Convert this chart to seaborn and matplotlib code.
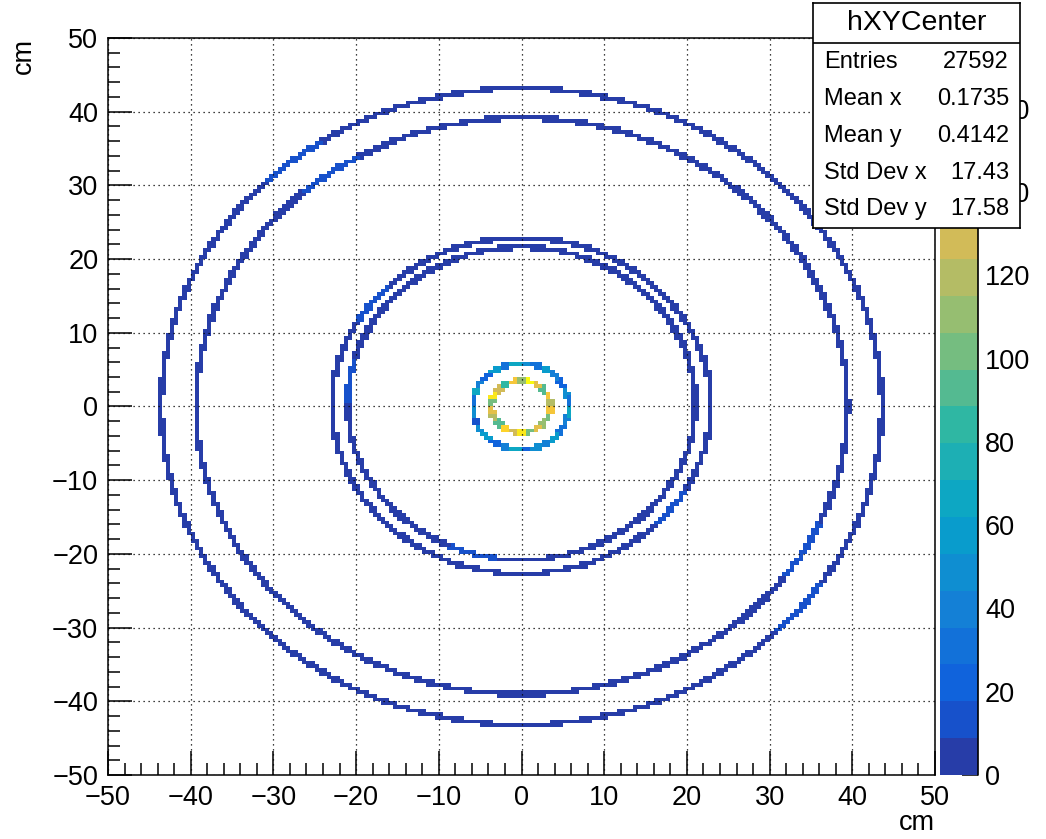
import numpy as np
import matplotlib
matplotlib.use("Agg")
import matplotlib.pyplot as plt
from matplotlib.colors import ListedColormap, BoundaryNorm
import seaborn as sns

sns.set_style("ticks")
plt.rcParams['font.family'] = ['Liberation Sans', 'DejaVu Sans']
plt.rcParams.update({'axes.edgecolor': 'black', 'xtick.color': 'black', 'ytick.color': 'black',
                     'text.color': 'black', 'axes.labelcolor': 'black'})

# histogram binning (cm)
x_lo, x_hi, n_bins = -50.0, 50.0, 200

# rings seen in the picture: centre and radii (cm)
ring_cx = [0.0, 0.05, 0.0, 0.0, -0.1, -0.05]
ring_cy = [0.0, 0.05, 0.1, 0.4, 0.0, 0.0]
ring_rx = [43.6, 39.4, 22.9, 21.05, 5.8, 3.6]
ring_ry = [43.2, 39.1, 22.8, 21.2, 5.85, 3.5]

# bin contents going round each ring (counter-clockwise from +x)
outer_counts = [5, 6, 4, 7, 5, 6, 8, 5, 7, 4, 6, 11, 5, 6, 3, 7, 5, 6, 4, 8, 5, 6, 7, 5,
                6, 4, 7, 5, 10, 6, 5, 7]
second_counts = [6, 5, 7, 4, 6, 8, 5, 7, 5, 6, 12, 4, 6, 7, 5, 8, 6, 5, 4, 7, 6, 5, 6, 5,
                 7, 4, 6, 10, 5, 6]
mid_counts = [6, 7, 5, 8, 6, 4, 7, 6, 5, 11, 6, 7, 5, 4, 8, 6, 7, 5, 7, 6, 5, 10, 6, 4]
mid2_counts = [5, 8, 6, 4, 7, 6, 5, 6, 8, 5, 10, 6, 4, 7, 6, 12, 5, 6, 7, 5, 4, 6]
core_counts = [35, 52, 18, 44, 61, 27, 48, 70, 33, 55, 22, 40, 66, 30, 50, 15, 45, 58, 25, 38,
               63, 20, 47, 36, 54, 29, 42, 68]
inner_counts = [120, 150, 95, 135, 172, 110, 145, 85, 128, 160, 100, 140, 118, 92, 155, 132,
                168, 105, 138, 112, 98, 147]
ring_counts = [outer_counts, second_counts, mid_counts, mid2_counts, core_counts, inner_counts]

# kBird palette stops
bird_colors = [(0.2082, 0.1664, 0.5293), (0.0592, 0.3599, 0.8684), (0.0780, 0.5041, 0.8385),
               (0.0232, 0.6419, 0.7914), (0.1802, 0.7178, 0.6425), (0.5301, 0.7492, 0.4662),
               (0.8186, 0.7328, 0.3499), (0.9956, 0.7862, 0.1968), (0.9764, 0.9832, 0.0539)]

z_max, n_levels = 177.0, 20
cbar_ticks = [0, 20, 40, 60, 80, 100, 120, 140, 160]

stat_labels = ["Entries", "Mean x", "Mean y", "Std Dev x", "Std Dev y"]
stat_values = ["27592", "0.1735", "0.4142", "17.43", "17.58"]

# fill the 2D histogram
edges = np.linspace(x_lo, x_hi, n_bins + 1)
bw = edges[1] - edges[0]
H = np.zeros((n_bins, n_bins))
phi = np.linspace(0, 2 * np.pi, 20000, endpoint=False)
for cx, cy, rx, ry, counts in zip(ring_cx, ring_cy, ring_rx, ring_ry, ring_counts):
    for dr in (-0.06, 0.06):
        xs = cx + (rx + dr) * np.cos(phi)
        ys = cy + (ry + dr) * np.sin(phi)
        ix = np.floor((xs - x_lo) / bw).astype(int)
        iy = np.floor((ys - x_lo) / bw).astype(int)
        for i, j in set(zip(ix, iy)):
            xc, yc = edges[i] + bw / 2, edges[j] + bw / 2
            a = np.arctan2((yc - cy) / ry, (xc - cx) / rx) % (2 * np.pi)
            H[i, j] = counts[int(a / (2 * np.pi) * len(counts)) % len(counts)]

# palette, ROOT style contour colours
pal = sns.blend_palette(bird_colors, n_colors=255)
level_cols = [pal[min(254, int((i + 0.99) * 255 / n_levels))] for i in range(n_levels)]
cmap = ListedColormap(level_cols)
cmap.set_bad('white')
norm = BoundaryNorm(np.linspace(0, z_max, n_levels + 1), n_levels)

W, Hpx = 1046, 839
fig = plt.figure(figsize=(W / 100, Hpx / 100), dpi=100)
ax = fig.add_axes([108 / W, 1 - 775 / Hpx, 827 / W, 737 / Hpx])
cax = fig.add_axes([940 / W, 1 - 775 / Hpx, 38 / W, 737 / Hpx])

mesh = ax.pcolormesh(edges, edges, np.ma.masked_equal(H.T, 0), cmap=cmap, norm=norm)
ax.set_xlim(x_lo, x_hi)
ax.set_ylim(x_lo, x_hi)
ax.set_xticks(np.arange(-50, 51, 10))
ax.set_yticks(np.arange(-50, 51, 10))
ax.set_xticks(np.arange(-50, 51, 2), minor=True)
ax.set_yticks(np.arange(-50, 51, 2), minor=True)
ax.tick_params(which='major', direction='in', length=17, width=1.1, labelsize=19.5, pad=7,
               top=False, right=False)
ax.tick_params(which='minor', direction='in', length=8.5, width=1.1, top=False, right=False)
ax.grid(True, which='major', color='black', linestyle=(0, (1, 3)), linewidth=0.9)
ax.set_axisbelow(False)
for s in ax.spines.values():
    s.set_linewidth(1.1)

ax.set_xlabel("cm", fontsize=19.5, loc='right')
ax.xaxis.set_label_coords(1.0, -0.048)
ax.set_ylabel("cm", fontsize=19.5, loc='top')
ax.yaxis.set_label_coords(-0.086, 1.0)

cb = fig.colorbar(mesh, cax=cax)
cb.outline.set_visible(False)
cb.set_ticks(cbar_ticks)
cax.minorticks_off()
cax.tick_params(axis='y', direction='in', length=11.5, width=1.1, labelsize=19.5, pad=5,
                right=True, left=False)
cax.plot([1, 1], [0, 1], transform=cax.transAxes, color='black', lw=1.2, clip_on=False)

# stats box
sax = fig.add_axes([813 / W, 1 - 228 / Hpx, 207 / W, 225 / Hpx], zorder=10)
sax.set_facecolor('white')
sax.set_xticks([])
sax.set_yticks([])
for s in sax.spines.values():
    s.set_visible(True)
    s.set_linewidth(1.2)
sax.axhline(1 - 40 / 225, color='black', lw=1.2)
sax.text(0.5, 0.911, "hXYCenter", ha='center', va='center', fontsize=20.5, transform=sax.transAxes)
row_y = [0.738, 0.573, 0.409, 0.244, 0.084]
for lab, val, yy in zip(stat_labels, stat_values, row_y):
    sax.text(0.053, yy, lab, ha='left', va='center', fontsize=17, transform=sax.transAxes)
    sax.text(0.947, yy, val, ha='right', va='center', fontsize=17, transform=sax.transAxes)

fig.savefig("out.png", dpi=100)
